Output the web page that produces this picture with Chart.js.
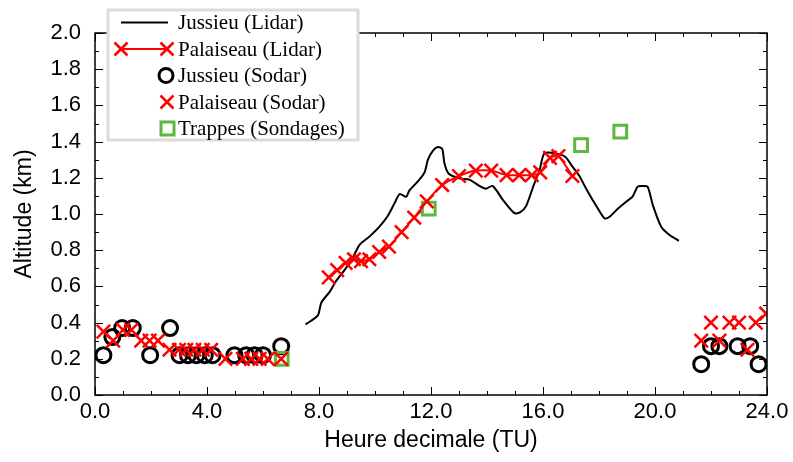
<!DOCTYPE html>
<html>
<head>
<meta charset="utf-8">
<script src="https://cdn.jsdelivr.net/npm/chart.js@4.4.1/dist/chart.umd.min.js"></script>
<style>
  html, body { margin: 0; padding: 0; background: #fff; }
  #wrap { width: 793px; height: 462px; }
</style>
</head>
<body>
<div id="wrap"><canvas id="chart" width="793" height="462"></canvas></div>
<script>
// Values (hour of day, altitude in km)
const jussieuLidarX = [7.52, 7.96, 8.08, 8.38, 8.61, 8.91, 9.21, 9.45, 9.8, 10.16, 10.46, 10.7, 10.88, 11.11, 11.23, 11.53, 11.77, 11.89, 12.07, 12.24, 12.4, 12.48, 12.62, 13.0, 13.37, 13.73, 13.96, 14.2, 14.56, 14.98, 15.19, 15.4, 15.67, 15.88, 16.05, 16.45, 16.8, 17.06, 17.3, 17.54, 17.96, 18.2, 18.38, 18.68, 18.97, 19.2, 19.38, 19.56, 19.74, 19.92, 20.22, 20.52, 20.85];
const jussieuLidarY = [0.39, 0.44, 0.51, 0.57, 0.63, 0.69, 0.76, 0.83, 0.875, 0.93, 0.99, 1.06, 1.11, 1.095, 1.13, 1.18, 1.23, 1.30, 1.35, 1.37, 1.36, 1.28, 1.225, 1.197, 1.19, 1.155, 1.14, 1.155, 1.08, 1.005, 1.01, 1.045, 1.16, 1.243, 1.335, 1.335, 1.315, 1.26, 1.21, 1.14, 1.03, 0.976, 0.985, 1.03, 1.068, 1.096, 1.151, 1.155, 1.15, 1.05, 0.93, 0.884, 0.852];

const palaiseauLidarX = [8.35, 8.65, 8.95, 9.25, 9.5, 9.8, 10.15, 10.5, 10.95, 11.4, 11.85, 12.4, 13.0, 13.6, 14.15, 14.7, 15.15, 15.6, 15.9, 16.25, 16.55, 17.05];
const palaiseauLidarY = [0.65, 0.69, 0.73, 0.75, 0.74, 0.75, 0.79, 0.82, 0.90, 0.98, 1.07, 1.16, 1.21, 1.24, 1.24, 1.215, 1.215, 1.215, 1.23, 1.31, 1.32, 1.21];

const jussieuSodarX = [0.3, 0.62, 0.97, 1.35, 1.97, 2.68, 3.02, 3.32, 3.62, 3.92, 4.2, 4.98, 5.4, 5.7, 6.0, 6.65, 21.65, 22.0, 22.3, 22.95, 23.4, 23.7];
const jussieuSodarY = [0.22, 0.32, 0.37, 0.37, 0.22, 0.37, 0.22, 0.22, 0.22, 0.22, 0.22, 0.22, 0.22, 0.22, 0.22, 0.27, 0.17, 0.27, 0.27, 0.27, 0.27, 0.17];

const palaiseauSodarX = [0.3, 0.65, 1.0, 1.3, 1.65, 1.95, 2.25, 2.66, 3.0, 3.26, 3.55, 3.85, 4.15, 4.66, 5.28, 5.58, 5.88, 6.17, 6.65, 21.65, 22.0, 22.3, 22.66, 23.0, 23.3, 23.6, 23.97];
const palaiseauSodarY = [0.35, 0.30, 0.36, 0.36, 0.30, 0.30, 0.30, 0.25, 0.25, 0.25, 0.25, 0.25, 0.25, 0.20, 0.20, 0.20, 0.20, 0.20, 0.20, 0.30, 0.40, 0.30, 0.40, 0.40, 0.25, 0.40, 0.45];

const trappesX = [6.67, 11.92, 17.36, 18.76];
const trappesY = [0.20, 1.03, 1.38, 1.455];

const legendLabels = ['Jussieu (Lidar)', 'Palaiseau (Lidar)', 'Jussieu (Sodar)', 'Palaiseau (Sodar)', 'Trappes (Sondages)'];

const RED = '#ff0000';
const GREEN = '#5ab83c';
const SANS = '"Liberation Sans", Arial, sans-serif';
const SERIF = '"Liberation Serif", "Times New Roman", serif';

function points(xs, ys) {
  return xs.map(function (x, i) { return { x: x, y: ys[i] }; });
}

// closed frame with inward major / minor ticks, like the original plot
const framePlugin = {
  id: 'frame',
  afterDatasetsDraw: function (chart) {
    var ctx = chart.ctx;
    var a = chart.chartArea;
    var xs = chart.scales.x, ys = chart.scales.y;
    ctx.save();
    ctx.strokeStyle = '#000';
    ctx.lineWidth = 1.5;
    ctx.strokeRect(a.left, a.top, a.right - a.left, a.bottom - a.top);
    ctx.lineWidth = 1;
    ctx.beginPath();
    for (var h = 0; h <= 24; h += 1) {
      var px = Math.round(xs.getPixelForValue(h)) + 0.5;
      var len = h % 4 === 0 ? 8 : 4;
      ctx.moveTo(px, a.bottom); ctx.lineTo(px, a.bottom - len);
      ctx.moveTo(px, a.top); ctx.lineTo(px, a.top + len);
    }
    for (var k = 0; k <= 20; k += 1) {
      var py = Math.round(ys.getPixelForValue(k / 10)) + 0.5;
      var l2 = k % 2 === 0 ? 8 : 4;
      ctx.moveTo(a.left, py); ctx.lineTo(a.left + l2, py);
      ctx.moveTo(a.right, py); ctx.lineTo(a.right - l2, py);
    }
    ctx.stroke();
    ctx.restore();
  },
};

function drawCross(ctx, x, y, r) {
  ctx.beginPath();
  ctx.moveTo(x - r, y - r); ctx.lineTo(x + r, y + r);
  ctx.moveTo(x - r, y + r); ctx.lineTo(x + r, y - r);
  ctx.stroke();
}

// boxed legend in the upper left, serif text
const legendPlugin = {
  id: 'boxLegend',
  afterDraw: function (chart) {
    var ctx = chart.ctx;
    var left = 108, top = 10, w = 250, h = 130;
    var rowY = function (i) { return 22.5 + i * 26.5; };
    ctx.save();
    ctx.fillStyle = '#fff';
    ctx.fillRect(left, top, w, h);
    ctx.strokeStyle = '#dcdcdc';
    ctx.lineWidth = 3;
    ctx.strokeRect(left, top, w, h);

    // Jussieu lidar
    ctx.strokeStyle = '#000';
    ctx.lineWidth = 2;
    ctx.beginPath(); ctx.moveTo(121, rowY(0)); ctx.lineTo(168, rowY(0)); ctx.stroke();
    // Palaiseau lidar
    ctx.strokeStyle = RED;
    ctx.beginPath(); ctx.moveTo(121, rowY(1)); ctx.lineTo(167, rowY(1)); ctx.stroke();
    ctx.lineWidth = 2.5;
    drawCross(ctx, 121, rowY(1), 6.5);
    drawCross(ctx, 167, rowY(1), 6.5);
    // Jussieu sodar
    ctx.strokeStyle = '#000';
    ctx.lineWidth = 3;
    ctx.beginPath(); ctx.arc(166, rowY(2), 7, 0, Math.PI * 2); ctx.stroke();
    // Palaiseau sodar
    ctx.strokeStyle = RED;
    ctx.lineWidth = 2.5;
    drawCross(ctx, 167, rowY(3), 6.5);
    // Trappes
    ctx.strokeStyle = GREEN;
    ctx.lineWidth = 3;
    ctx.strokeRect(161, rowY(4) - 6.5, 13, 13);

    ctx.fillStyle = '#000';
    ctx.font = '21px ' + SERIF;
    ctx.textBaseline = 'middle';
    ctx.textAlign = 'left';
    legendLabels.forEach(function (t, i) { ctx.fillText(t, 178, rowY(i) + 1); });
    ctx.restore();
  },
};

const chart = new Chart(document.getElementById('chart'), {
  type: 'scatter',
  data: {
    datasets: [
      {
        label: legendLabels[0],
        data: points(jussieuLidarX, jussieuLidarY),
        showLine: true, borderColor: '#000', borderWidth: 2, pointRadius: 0, tension: 0.25,
        order: 5,
      },
      {
        label: legendLabels[1],
        data: points(palaiseauLidarX, palaiseauLidarY),
        showLine: true, borderColor: RED, borderWidth: 2, tension: 0.2,
        pointStyle: 'crossRot', pointRadius: 9.5, pointBorderWidth: 2.5, pointBorderColor: RED,
        order: 2,
      },
      {
        label: legendLabels[2],
        data: points(jussieuSodarX, jussieuSodarY),
        pointStyle: 'circle', pointRadius: 7.5, pointBorderWidth: 3,
        pointBorderColor: '#000', pointBackgroundColor: 'rgba(0,0,0,0)',
        order: 4,
      },
      {
        label: legendLabels[3],
        data: points(palaiseauSodarX, palaiseauSodarY),
        pointStyle: 'crossRot', pointRadius: 9.5, pointBorderWidth: 2.5, pointBorderColor: RED,
        order: 1,
      },
      {
        label: legendLabels[4],
        data: points(trappesX, trappesY),
        pointStyle: 'rect', pointRadius: 9, pointBorderWidth: 3,
        pointBorderColor: GREEN, pointBackgroundColor: 'rgba(0,0,0,0)',
        order: 3,
      },
    ],
  },
  options: {
    responsive: false,
    animation: false,
    devicePixelRatio: 1,
    layout: { padding: { left: 0, top: 33, right: 26, bottom: 0 } },
    plugins: { legend: { display: false }, tooltip: { enabled: false } },
    scales: {
      x: {
        type: 'linear', min: 0, max: 24,
        grid: { display: false, drawTicks: false },
        border: { display: false },
        ticks: {
          stepSize: 4, padding: 4, color: '#000', font: { family: SANS, size: 22 },
          callback: function (v) { return v.toFixed(1); },
        },
        title: { display: true, text: 'Heure decimale (TU)', color: '#000', font: { family: SANS, size: 23 }, padding: { top: 0, bottom: 8 } },
        afterFit: function (s) { s.height = 67; },
      },
      y: {
        type: 'linear', min: 0, max: 2,
        grid: { display: false, drawTicks: false },
        border: { display: false },
        ticks: {
          stepSize: 0.2, padding: 14, color: '#000', font: { family: SANS, size: 22 },
          callback: function (v) { return v.toFixed(1); },
        },
        title: { display: true, text: 'Altitude (km)', color: '#000', font: { family: SANS, size: 23 }, padding: { top: 11, bottom: 0 } },
        afterFit: function (s) { s.width = 95; },
      },
    },
  },
  plugins: [framePlugin, legendPlugin],
});
</script>
</body>
</html>
